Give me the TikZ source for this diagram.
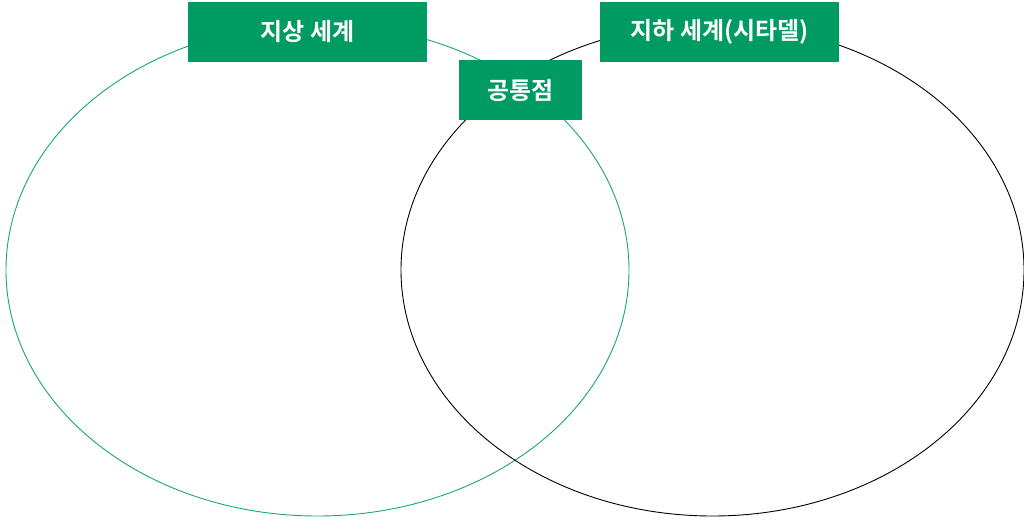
\documentclass[tikz,border=0pt]{standalone}
\usepackage{fontspec}
\setmainfont{Noto Sans CJK KR}[BoldFont=* Bold]
\definecolor{boxgreen}{RGB}{0,155,99}
\definecolor{ringgreen}{RGB}{24,166,118}

\begin{document}
\begin{tikzpicture}[x=1pt, y=-1pt]
    \useasboundingbox (0,0) rectangle (1024,521);

    \draw[ringgreen, line width=0.9pt] (317.5,270) ellipse [x radius=311.5, y radius=246];
    \draw[black, line width=0.9pt] (712.5,270) ellipse [x radius=311.5, y radius=246];

    \begin{scope}[every node/.style={rectangle, fill=boxgreen, text=white, inner sep=0pt, minimum height=60pt, font=\fontsize{24}{28}\selectfont\bfseries}]
        \node[minimum width=239pt] (ground) at (307.5,32) {지상 세계};
        \node[minimum width=239pt] (under) at (719.5,32) {지하 세계(시타델)};
        \node[minimum width=123pt] (common) at (520.5,90.5) {공통점};
    \end{scope}
\end{tikzpicture}
\end{document}
